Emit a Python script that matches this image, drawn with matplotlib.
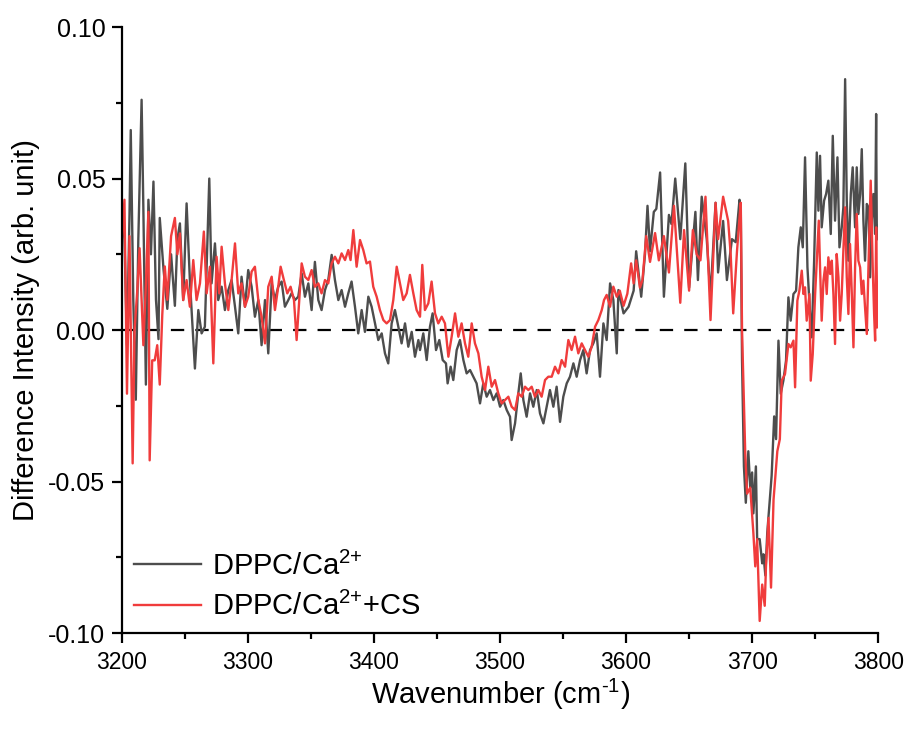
import numpy as np
import matplotlib
matplotlib.use("Agg")
import matplotlib.pyplot as plt
from matplotlib.ticker import MultipleLocator, FormatStrFormatter

plt.rcParams['font.family'] = ['Liberation Sans', 'DejaVu Sans']
plt.rcParams['mathtext.fontset'] = 'custom'
plt.rcParams['mathtext.rm'] = 'Liberation Sans'
plt.rcParams['mathtext.it'] = 'Liberation Sans:italic'

# DPPC/Ca2+ (grey): digitised wavenumber / difference intensity pairs
wn_ca = [3200, 3202, 3204, 3206, 3207, 3209, 3211, 3213, 3215.6, 3217, 3219, 3221, 3223, 3225,
         3227, 3229, 3230, 3233, 3236, 3239, 3242, 3244,
         3246.0, 3248.6, 3251.3, 3253.9, 3257.9, 3260.6, 3263.2, 3265.8, 3269.3, 3271.1, 3273.8,
         3276.4, 3279.1, 3281.7, 3284.4, 3287.0, 3289.7, 3292.3, 3294.9, 3297.6, 3300.2, 3302.9,
         3305.5, 3308.2, 3310.8, 3313.5, 3316.1, 3318.8, 3321.4, 3324.0, 3326.7, 3329.3, 3332.0,
         3334.6, 3337.3, 3339.9, 3342.6, 3345.2, 3347.9, 3350.5, 3353.1, 3355.8, 3358.4, 3361.1,
         3363.7, 3366.4, 3369.0, 3371.7, 3374.3, 3377.0, 3379.6, 3382.2, 3384.9, 3387.5, 3390.2,
         3392.8, 3395.5, 3398.1, 3400.8, 3403.4, 3406.1, 3408.7, 3411.3, 3414.0, 3416.6, 3419.3,
         3421.9, 3424.6, 3427.2, 3429.9, 3432.5, 3435.2,
         3436.5, 3439.1, 3441.8, 3444.4, 3446.5, 3449.2, 3451.8, 3454.5, 3457.1, 3458.4, 3460.8,
         3462.9, 3465.6, 3468.2, 3470.9, 3473.5, 3476.2, 3478.8, 3481.4, 3484.1, 3486.7, 3489.4,
         3492.0, 3494.7, 3497.3, 3500.0, 3502.6, 3505.3, 3507.9, 3509.2, 3511.9, 3514.5, 3516.4,
         3518.5, 3521.1, 3523.8, 3526.4, 3529.1, 3531.7, 3534.4, 3537.0, 3539.6, 3542.3, 3544.9,
         3547.6, 3550.2, 3552.9, 3555.5, 3558.2, 3560.8, 3563.5, 3566.1, 3568.7, 3571.4, 3574.0,
         3576.7, 3579.3, 3582.0, 3584.6, 3587.3, 3589.9, 3592.6, 3593.9,
         3598, 3602, 3606, 3608, 3612, 3615, 3617, 3619, 3622, 3624, 3627, 3630, 3634, 3636,
         3639, 3643, 3647, 3650, 3655, 3657, 3660, 3664, 3667, 3671, 3673, 3677, 3680, 3684,
         3687, 3690, 3691,
         3692, 3693.5, 3695, 3697, 3698.5, 3700, 3701, 3703, 3704, 3706, 3708, 3709, 3710.5,
         3712, 3714, 3715.5, 3717.5, 3719,
         3720.9, 3722.7, 3724.8, 3726.9, 3728.8, 3730.6, 3732.8, 3734.9, 3736.7, 3738.6, 3740.2,
         3742.0, 3743.9, 3746.0, 3747.3, 3749.2, 3751.3, 3752.6, 3753.9, 3755.2, 3757.1, 3758.7,
         3760.5, 3762.4, 3764.0, 3765.8, 3767.7, 3769.3, 3771.1, 3772.4, 3773.8, 3775.1, 3776.4,
         3778.3, 3779.8, 3781.7, 3783.0, 3784.3, 3785.7, 3787.0, 3788.3, 3789.6, 3791.0, 3792.3,
         3793.6, 3794.9, 3796.2, 3797.6, 3798.4, 3798.9, 3800]
int_ca = [0.040, 0.030, -0.005, 0.038, 0.066, 0.010, -0.023, 0.030, 0.076, 0.040, -0.018, 0.043, 0.025, 0.049,
          0.010, -0.003, 0.037, 0.020, 0.007, 0.025, 0.008, 0.030,
          0.0352, 0.0099, 0.0418, 0.0165, -0.0127, 0.0066, -0.0011, 0.0011, 0.050, 0.0154, 0.0286,
          0.0099, 0.0143, 0.0066, 0.0132, 0.0165, 0.0077, -0.0011, 0.0176, 0.0077, 0.0198, 0.0143,
          0.0044, 0.0099, -0.005, 0.0099, -0.0077, 0.0154, 0.0099, 0.0143, 0.016, 0.0077, 0.0099,
          0.0121, 0.0099, 0.011, 0.0187, 0.011, 0.0154, 0.0066, 0.0225, 0.0099, 0.0066, 0.0132,
          0.0165, 0.0248, 0.0165, 0.0099, 0.0132, 0.0077, 0.0121, 0.016, 0.0077, -0.0011, 0.0066,
          -0.0006, 0.011, 0.0077, 0.0022, -0.0033, -0.0011, -0.0077, -0.011, 0.0022, 0.0066, 0.0011,
          -0.0044, 0.0022, -0.0055, -0.0006, -0.0088, -0.0033,
          -0.0066, -0.0011, -0.0099, 0.0011, 0.0055, -0.0066, -0.0033, -0.0099, -0.011, -0.0176, -0.0121,
          -0.0165, -0.0066, -0.0033, -0.0099, -0.0143, -0.0132, -0.0154, -0.0176, -0.0242, -0.0176, -0.022,
          -0.0198, -0.0231, -0.0209, -0.0253, -0.0231, -0.0264, -0.0286, -0.0363, -0.0308, -0.0209, -0.0143,
          -0.0231, -0.0286, -0.0209, -0.0253, -0.0198, -0.0275, -0.0308, -0.0253, -0.0198, -0.0253, -0.0187,
          -0.0303, -0.022, -0.0176, -0.0154, -0.011, -0.0154, -0.0099, -0.0066, -0.0143, -0.0066, -0.0044,
          -0.0011, -0.0154, 0.0022, -0.0033, 0.0154, 0.0099, -0.0077, 0.0132,
          0.0055, 0.0077, 0.013, 0.026, 0.011, 0.025, 0.041, 0.026, 0.039, 0.040, 0.052, 0.011, 0.038, 0.035,
          0.050, 0.030, 0.055, 0.014, 0.039, 0.0165, 0.044, 0.030, 0.011, 0.042, 0.019, 0.036, 0.0165, 0.030,
          0.029, 0.043, 0.040,
          -0.010, -0.045, -0.057, -0.040, -0.052, -0.047, -0.0605, -0.045, -0.069, -0.069, -0.077, -0.074, -0.081,
          -0.067, -0.056, -0.048, -0.0285, -0.036,
          -0.0035, -0.021, -0.0167, -0.0101, 0.0108, 0.0031, 0.0119, 0.013, 0.0273, 0.0339, 0.0273,
          0.057, 0.0207, 0.0053, -0.0024, 0.0229, 0.0586, 0.0394, 0.0575, 0.0339, 0.0427, 0.0449,
          0.0493, 0.0317, 0.0641, 0.0361, 0.057, 0.0273, 0.0339, 0.0405, 0.0828, 0.0427, 0.0229,
          0.0449, 0.0537, 0.0339, 0.0537, 0.0383, 0.0449, 0.0597, 0.0361, 0.0229, 0.0416, 0.0405,
          0.0174, 0.0361, 0.0449, 0.0317, 0.0713, 0.035, 0.030]

# DPPC/Ca2+ + CS (red)
wn_cs = [3200, 3202, 3204, 3206, 3208.5, 3210, 3212, 3214, 3217, 3219, 3221, 3222, 3224, 3226,
         3228, 3230, 3232, 3234, 3236, 3239, 3242, 3244,
         3246.0, 3248.6, 3251.3, 3253.9, 3256.6, 3259.2, 3261.9, 3265.0, 3267.2, 3269.8, 3272.5,
         3275.1, 3277.2, 3279.1, 3281.7, 3284.4, 3287.0, 3289.7, 3292.3, 3294.9, 3297.6, 3300.2,
         3302.9, 3305.5, 3308.2, 3310.8, 3313.5, 3316.1, 3318.8, 3321.4, 3324.0, 3325.9, 3328.5,
         3331.2, 3333.8, 3336.5, 3338.6, 3340.7, 3342.6, 3345.2, 3347.9, 3350.5, 3353.1, 3355.8,
         3358.4, 3361.1, 3363.7, 3366.4, 3369.0, 3371.7, 3374.3, 3377.0, 3379.6, 3381.4, 3383.6,
         3386.2, 3388.9, 3391.5, 3394.1, 3396.8, 3399.4, 3402.1, 3404.7, 3407.4, 3410.0, 3412.7,
         3415.3, 3418.0, 3420.6, 3423.2, 3425.9, 3428.5, 3431.2, 3433.8, 3436.5,
         3438.3, 3440.4, 3443.1, 3445.7, 3448.4, 3451.0, 3453.7, 3456.3, 3459.0, 3461.6, 3464.3,
         3466.9, 3469.5, 3472.2, 3474.8, 3477.5, 3480.1, 3482.8, 3485.4, 3488.1, 3490.7, 3493.4,
         3496.0, 3498.6, 3501.3, 3503.9, 3506.6, 3509.2, 3511.9, 3514.5, 3517.2, 3519.8, 3522.5,
         3525.1, 3527.7, 3530.4, 3533.0, 3535.7, 3538.3, 3541.0, 3543.6, 3546.3, 3548.9, 3551.6,
         3554.2, 3556.8, 3559.5, 3562.1, 3564.8, 3567.4, 3570.1, 3572.7, 3575.4, 3578.0, 3580.7,
         3582.5, 3584.6, 3587.3, 3589.9, 3592.6,
         3595, 3598, 3601, 3604, 3606, 3608, 3611, 3613, 3616, 3619, 3623, 3626, 3630, 3634,
         3638, 3643, 3646, 3650, 3653, 3656, 3659, 3663, 3667, 3671, 3673, 3677, 3681, 3683,
         3685, 3688, 3690, 3691,
         3692, 3694.5, 3696, 3698.5, 3701, 3702.5, 3704, 3706, 3708, 3710, 3711, 3713, 3715,
         3717, 3720, 3722,
         3723.5, 3726.1, 3728.8, 3730.6, 3732.8, 3734.1, 3735.9, 3737.5, 3739.4, 3740.7, 3742.0,
         3743.3, 3745.5, 3746.5, 3748.1, 3750.0, 3751.3, 3752.9, 3753.9, 3755.2, 3756.6, 3757.9,
         3759.2, 3760.5, 3761.9, 3763.2, 3764.5, 3765.8, 3767.1, 3768.5, 3769.8, 3771.1, 3772.4,
         3773.8, 3775.1, 3776.4, 3777.7, 3779.1, 3780.4, 3781.7, 3783.0, 3784.3, 3785.7, 3787.0,
         3788.3, 3789.6, 3791.0, 3792.3, 3794.1, 3795.7, 3796.8, 3797.6, 3798.4, 3799.4]
int_cs = [0.030, 0.043, -0.021, 0.031, -0.044, 0.000, 0.012, 0.027, -0.005, 0.015, 0.039, -0.043, -0.010, -0.010,
          -0.005, -0.018, 0.005, 0.021, 0.010, 0.031, 0.037, 0.025,
          0.0319, 0.0099, 0.0165, 0.0077, 0.0231, 0.0099, 0.0154, 0.0325, 0.0121, 0.0209, -0.011,
          0.0242, 0.0121, 0.0275, 0.0154, 0.0066, 0.0165, 0.0286, 0.0121, 0.0154, 0.0077, 0.011,
          0.0193, 0.0209, 0.0099, 0.0044, -0.0044, 0.0143, 0.0176, 0.0066, 0.0143, 0.0209, 0.0165,
          0.0121, 0.0143, 0.0099, -0.0033, 0.0099, 0.022, 0.0176, 0.0165, 0.0198, 0.0143, 0.0154,
          0.0121, 0.0165, 0.0154, 0.022, 0.0242, 0.022, 0.0253, 0.0231, 0.0264, 0.0231, 0.033,
          0.0209, 0.0297, 0.0264, 0.022, 0.0226, 0.0143, 0.011, 0.0066, 0.0033, 0.0022, 0.0033,
          0.0099, 0.0209, 0.0154, 0.0099, 0.0121, 0.0182, 0.0121, 0.0066, 0.0044,
          0.0215, 0.0066, 0.0088, 0.016, 0.0055, 0.0022, 0.0044, 0.0022, -0.0088, -0.0022, 0.0055,
          -0.0022, 0.0022, -0.0044, -0.0088, 0.0022, -0.0044, -0.0077, -0.0154, -0.0198, -0.0121, -0.0187,
          -0.0165, -0.0209, -0.0242, -0.0231, -0.022, -0.0253, -0.0264, -0.0209, -0.022, -0.0187, -0.0198,
          -0.0187, -0.022, -0.0198, -0.022, -0.0165, -0.0154, -0.0154, -0.0121, -0.0143, -0.0099, -0.0121,
          -0.0033, -0.0066, -0.0022, -0.0077, -0.0044, -0.0066, -0.0088, -0.0055, 0.0011, 0.0033, 0.0066,
          0.0099, 0.0116, 0.0077, 0.0143, 0.011,
          0.013, 0.008, 0.012, 0.022, 0.0154, 0.023, 0.014, 0.0165, 0.031, 0.0225, 0.032, 0.023, 0.031, 0.019,
          0.041, 0.009, 0.033, 0.013, 0.033, 0.025, 0.023, 0.044, 0.0033, 0.042, 0.030, 0.044, 0.036, 0.025,
          0.0055, 0.026, 0.037, 0.042,
          0.000, -0.040, -0.054, -0.052, -0.067, -0.078, -0.069, -0.096, -0.084, -0.091, -0.078, -0.062, -0.085,
          -0.056, -0.040, -0.036,
          -0.0167, -0.0145, -0.0046, -0.0057, -0.0035, -0.0189, 0.0097, 0.013, 0.0196, 0.0119, 0.0141,
          0.0031, 0.0119, -0.0167, -0.0079, 0.0119, 0.0229, 0.0361, 0.0207, 0.0031, 0.0163, 0.0207,
          0.0119, 0.024, 0.0185, 0.0229, 0.0119, -0.0046, 0.0251, 0.0174, 0.0031, 0.0119, 0.0262,
          0.0405, 0.0174, 0.0053, 0.0284, 0.0119, -0.0057, 0.0207, 0.0383, 0.0229, 0.0207, 0.0119,
          0.0163, 0.0075, -0.0013, 0.0207, 0.0493, 0.0207, 0.0053, -0.0035, 0.0339, 0.0009]

fig = plt.figure(figsize=(9.1, 7.31), dpi=100)
ax = fig.add_axes([0.134, 0.134, 0.831, 0.829])

ax.plot(wn_ca, int_ca, color='#4d4d4d', lw=1.7, label=r'DPPC/Ca$^{2\text{+}}$')
ax.plot(wn_cs, int_cs, color='#f03c3c', lw=1.7, label=r'DPPC/Ca$^{2\text{+}}$+CS')
ax.axhline(0, color='black', lw=1.6, ls=(0, (6, 5)), zorder=0.5)

ax.set_xlim(3200, 3800)
ax.set_ylim(-0.10, 0.10)
ax.xaxis.set_major_locator(MultipleLocator(100))
ax.xaxis.set_minor_locator(MultipleLocator(50))
ax.yaxis.set_major_locator(MultipleLocator(0.05))
ax.yaxis.set_minor_locator(MultipleLocator(0.025))
ax.yaxis.set_major_formatter(FormatStrFormatter('%.2f'))

for s in ['top', 'right']:
    ax.spines[s].set_visible(False)
for s in ['left', 'bottom']:
    ax.spines[s].set_linewidth(1.6)
ax.tick_params(which='major', direction='out', length=7, width=1.6)
ax.tick_params(which='minor', direction='out', length=4, width=1.6)
ax.tick_params(axis='y', labelsize=18, pad=5)
ax.tick_params(axis='x', labelsize=16.5, pad=6)

ax.set_xlabel(r'Wavenumber (cm$^{\text{-1}}$)', fontsize=21, labelpad=2)
ax.set_ylabel('Difference Intensity (arb. unit)', fontsize=21, labelpad=6)

ax.legend(loc='lower left', frameon=False, fontsize=21, handlelength=2.3, handletextpad=0.4,
          borderaxespad=0.1, borderpad=0.3, labelspacing=0.4)

fig.savefig('out.png', dpi=100)
